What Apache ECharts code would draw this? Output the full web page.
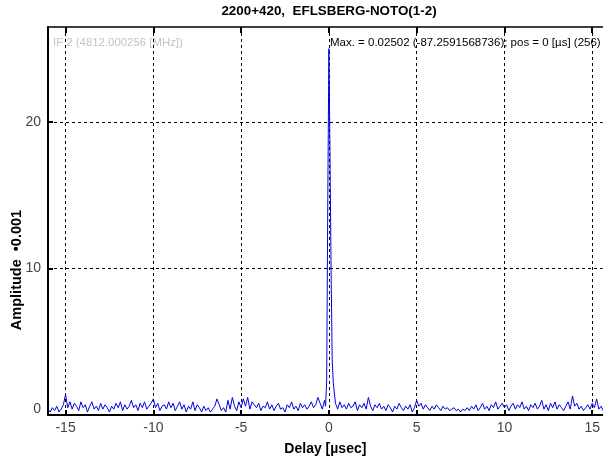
<!DOCTYPE html>
<html lang="en">

<head>
  <meta charset="UTF-8">
  <title>2200+420 EFLSBERG-NOTO</title>
  <script src="https://cdn.jsdelivr.net/npm/echarts@6/dist/echarts.min.js"></script>
  <style>
    html, body { margin: 0; padding: 0; background: #fff; }
    #main { width: 603px; height: 461px; }
  </style>
</head>

<body>
  <div id="main"></div>

  <script>
    // amplitude in units of 0.001, delay in microseconds
    var xTicks = [-15, -10, -5, 0, 5, 10, 15];
    var yTicks = [0, 10, 20];

    // noise left of the peak: -16 .. -0.375 us, step 0.125
    var leftStart = -16;
    var ampLeft = [
      0.4, 0.2, 0.5, 0.3, 0.6, 0.2, 0.4, 0.7,
      1.4, 0.5, 0.9, 0.4, 0.8, 0.6, 0.3, 0.9,
      0.5, 0.7, 0.2, 0.6, 0.9, 0.4, 0.6, 0.3,
      0.8, 0.4, 0.7, 0.5, 0.2, 0.6, 0.4, 0.8,
      0.5, 0.9, 0.3, 0.7, 0.4, 0.6, 1.0, 0.5,
      0.7, 0.3, 0.8, 0.5, 0.9, 0.4, 0.6, 0.8,
      1.1, 0.5, 0.8, 0.3, 0.6, 0.7, 0.4, 0.9,
      0.5, 0.8, 0.3, 0.6, 0.9, 0.4, 0.7, 0.2,
      0.6, 0.4, 0.9, 0.3, 0.7, 0.5, 0.2, 0.6,
      0.3, 0.5, 0.2, 0.4, 0.6, 1.1, 0.7, 0.3,
      0.5, 0.2, 1.0, 0.4, 1.2, 0.6, 0.3, 0.9,
      0.5, 1.1, 0.6, 1.2, 0.4, 0.9, 0.7, 0.5,
      0.8, 0.3, 0.6, 0.5, 0.9, 0.4, 0.7, 0.3,
      0.6, 0.8, 0.4, 0.5, 0.2, 0.7, 0.5, 0.9,
      0.4, 0.6, 0.3, 0.8, 0.5, 0.7, 0.4, 0.6,
      0.9, 0.5, 0.7, 1.2, 0.8, 0.4
    ];

    // the fringe peak itself
    var peakDelay = [-0.25, -0.1875, -0.125, -0.0625, 0, 0.0625, 0.125, 0.1875, 0.25];
    var peakAmp = [1.0, 0.6, 2.4, 14.7, 25.02, 18.0, 9.9, 3.8, 2.2];

    // noise right of the peak: 0.375 .. 16 us, step 0.125
    var rightStart = 0.375;
    var ampRight = [
      0.8, 0.4, 0.9, 0.5, 0.7,
      0.4, 0.8, 0.5, 0.6, 0.9, 0.3, 0.7, 0.5,
      0.8, 0.4, 1.2, 0.6, 0.3, 0.7, 0.5, 0.8,
      0.4, 0.6, 0.3, 0.7, 0.5, 0.2, 0.6, 0.4,
      0.8, 0.5, 0.3, 0.6, 0.4, 0.7, 0.2, 0.5,
      1.0, 0.6, 0.8, 0.4, 0.7, 0.5, 0.3, 0.6,
      0.4, 0.7, 0.5, 0.3, 0.6, 0.4, 0.5, 0.3,
      0.4, 0.5, 0.3, 0.4, 0.2, 0.4, 0.3, 0.5,
      0.3, 0.6, 0.4, 0.7, 0.3, 0.5, 0.8, 0.4,
      0.6, 0.3, 0.7, 0.5, 0.9, 0.4, 0.6, 0.8,
      0.5, 0.7, 0.3, 0.6, 0.8, 0.4, 0.7, 0.5,
      0.9, 0.4, 0.6, 0.3, 0.7, 0.5, 0.8, 0.4,
      0.6, 1.0, 0.4, 0.7, 0.3, 0.8, 0.5, 0.9,
      0.4, 0.7, 0.5, 0.3, 0.6, 0.9, 0.4, 1.3,
      0.6, 0.8, 0.4, 0.6, 0.3, 0.5, 0.7, 0.4,
      0.8, 0.5, 1.1, 0.4, 0.6, 0.3, 0.7, 0.5,
      0.4
    ];
    var step = 0.125;

    var points = [];
    for (var i = 0; i < ampLeft.length; i++) {
      points.push([leftStart + i * step, ampLeft[i]]);
    }
    for (var j = 0; j < peakAmp.length; j++) {
      points.push([peakDelay[j], peakAmp[j]]);
    }
    for (var k = 0; k < ampRight.length; k++) {
      points.push([rightStart + k * step, ampRight[k]]);
    }

    var FONT = 'Liberation Sans, Arial, sans-serif';
    // plot runs past the right edge of the picture
    var X_MIN = -16, X_MAX = 15.6;

    var oChart = echarts.init(document.getElementById('main'), null, { renderer: 'canvas' });
    var opt = {
      animation: false,
      backgroundColor: '#fff',
      grid: { left: 48, top: 27, right: 0, bottom: 41 },
      xAxis: [
        {
          type: 'value',
          position: 'bottom',
          min: X_MIN,
          max: X_MAX,
          name: 'Delay [\u00b5sec]',
          nameLocation: 'middle',
          nameGap: 27,
          nameTextStyle: { fontFamily: FONT, fontWeight: 'bold', fontSize: 14, color: '#000' },
          axisLine: { show: true, onZero: false, lineStyle: { color: '#000', width: 2 } },
          axisTick: { show: true, inside: true, length: 5, customValues: xTicks, lineStyle: { color: '#000', width: 2 } },
          axisLabel: { customValues: xTicks, margin: 6, fontFamily: FONT, fontSize: 14, color: '#444' },
          splitLine: { show: true, lineStyle: { color: '#000', width: 1, type: [3, 3] } }
        },
        {
          type: 'value',
          position: 'top',
          min: X_MIN,
          max: X_MAX,
          axisLine: { show: true, onZero: false, lineStyle: { color: '#000', width: 1.5 } },
          axisTick: { show: true, inside: true, length: 6, customValues: xTicks, lineStyle: { color: '#000', width: 2 } },
          axisLabel: { show: false },
          splitLine: { show: false }
        }
      ],
      yAxis: [
        {
          type: 'value',
          min: 0,
          max: 26.5,
          axisLine: { show: true, onZero: false, lineStyle: { color: '#000', width: 2 } },
          axisTick: { show: true, inside: true, length: 5, customValues: yTicks, lineStyle: { color: '#000', width: 2 } },
          axisLabel: {
            customValues: yTicks,
            margin: 7,
            fontFamily: FONT,
            fontSize: 14,
            color: '#444',
            formatter: function (v) { return v === 0 ? '{z|0}' : String(v); },
            rich: { z: { fontFamily: FONT, fontSize: 14, color: '#444', padding: [0, 0, 12, 0] } }
          },
          splitLine: { show: true, lineStyle: { color: '#000', width: 1, type: [3, 3] } }
        }
      ],
      series: [
        {
          type: 'line',
          data: points,
          showSymbol: false,
          clip: true,
          lineStyle: { color: '#0000e6', width: 1 },
          itemStyle: { color: '#0000e6' }
        }
      ],
      graphic: [
        {
          type: 'text',
          style: {
            text: '2200+420,  EFLSBERG-NOTO(1-2)',
            x: 329, y: 11,
            textAlign: 'center', textVerticalAlign: 'middle',
            font: 'bold 13.4px ' + FONT, fill: '#000'
          }
        },
        {
          type: 'text',
          style: {
            text: 'IF 2 (4812.000256 [MHz])',
            x: 53, y: 43,
            textAlign: 'left', textVerticalAlign: 'middle',
            font: '11.4px ' + FONT, fill: '#c4c4c4'
          }
        },
        {
          type: 'text',
          style: {
            text: 'Max. = 0.02502 (-87.2591568736); pos = 0 [\u00b5s] (256)',
            x: 330, y: 43,
            textAlign: 'left', textVerticalAlign: 'middle',
            font: '11.5px ' + FONT, fill: '#000'
          }
        },
        {
          type: 'text',
          rotation: Math.PI / 2,
          x: 17, y: 270,
          style: {
            text: 'Amplitude  \u20220.001',
            x: 0, y: 0,
            textAlign: 'center', textVerticalAlign: 'middle',
            font: 'bold 14.5px ' + FONT, fill: '#000'
          }
        }
      ]
    };
    oChart.setOption(opt);
  </script>
</body>

</html>
